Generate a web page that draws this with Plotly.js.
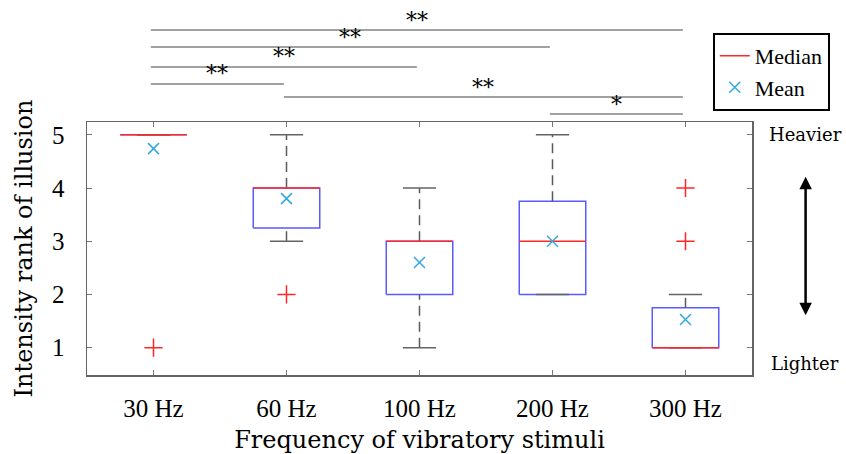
<!DOCTYPE html>
<html>
<head>
<meta charset="utf-8">
<script src="https://cdn.plot.ly/plotly-3.0.1.min.js"></script>
<style>html,body{margin:0;padding:0;background:#fff;}#chart{width:846px;height:454px;}</style>
</head>
<body>
<div id="chart"></div>
<script>
// ---- data ----
const categories = ["30 Hz", "60 Hz", "100 Hz", "200 Hz", "300 Hz"];
const q1Values     = [5, 3.25, 2, 2, 1];
const medianValues = [5, 4, 3, 3, 1];
const q3Values     = [5, 4, 3, 3.75, 1.75];
const lowerWhisker = [5, 3, 1, 2, 1];
const upperWhisker = [5, 5, 4, 5, 2];
const meanValues   = [4.74, 3.8, 2.6, 3.0, 1.53];
const outlierCat   = [0, 1, 4, 4];
const outlierVal   = [1, 2, 3, 4];
const sigPairs  = [[0, 4], [0, 3], [0, 2], [0, 1], [1, 4], [3, 4]];
const sigLabels = ["**", "**", "**", "**", "**", "*"];
const yTicks = [1, 2, 3, 4, 5];

// ---- styles ----
const serifTick = '"Liberation Serif", "Times New Roman", serif';
const serifTitle = '"DejaVu Serif", serif';
const boxHalf = 0.25, capHalf = 0.125;
const sigLevels = [1.3636, 1.2964, 1.2174, 1.1502, 1.0988, 1.0316]; // paper y of bars
const endShift = -0.02;

const idx = categories.map((c, i) => i);

function seg(fnX, fnY) {
  const xs = [], ys = [];
  idx.forEach(i => { const a = fnX(i), b = fnY(i); xs.push(...a, null); ys.push(...b, null); });
  return {x: xs, y: ys};
}

const boxPath = seg(i => [i - boxHalf, i + boxHalf, i + boxHalf, i - boxHalf, i - boxHalf],
                    i => [q1Values[i], q1Values[i], q3Values[i], q3Values[i], q1Values[i]]);
const upW = seg(i => [i, i], i => [q3Values[i], upperWhisker[i]]);
const loW = seg(i => [i, i], i => [lowerWhisker[i], q1Values[i]]);
const capsU = seg(i => [i - capHalf, i + capHalf], i => [upperWhisker[i], upperWhisker[i]]);
const capsL = seg(i => [i - capHalf, i + capHalf], i => [lowerWhisker[i], lowerWhisker[i]]);
const med = seg(i => [i - boxHalf, i + boxHalf], i => [medianValues[i], medianValues[i]]);

const traces = [
  {x: boxPath.x, y: boxPath.y, mode: "lines", line: {color: "rgb(90,90,255)", width: 1.5}, showlegend: false, hoverinfo: "skip"},
  {x: upW.x.concat(loW.x), y: upW.y.concat(loW.y), mode: "lines", line: {color: "rgb(90,90,90)", width: 1.5, dash: "10px,6px"}, showlegend: false, hoverinfo: "skip"},
  {x: capsU.x.concat(capsL.x), y: capsU.y.concat(capsL.y), mode: "lines", line: {color: "rgb(100,100,100)", width: 1.5}, showlegend: false, hoverinfo: "skip"},
  {x: med.x, y: med.y, mode: "lines", name: "Median", line: {color: "rgb(255,40,40)", width: 1.5}, showlegend: true},
  {x: outlierCat, y: outlierVal, mode: "markers", marker: {symbol: "cross-thin", size: 13, line: {color: "rgb(255,40,40)", width: 1.5}}, showlegend: false},
  {x: idx, y: meanValues, mode: "markers", name: "Mean", marker: {symbol: "x-thin", size: 11, color: "rgb(50,170,225)", line: {color: "rgb(50,170,225)", width: 1.5}}, showlegend: true}
];

const shapes = [], annotations = [];
sigPairs.forEach((p, k) => {
  shapes.push({type: "line", xref: "x", yref: "paper", x0: p[0] + endShift, x1: p[1] + endShift,
    y0: sigLevels[k], y1: sigLevels[k], line: {color: "rgb(130,130,130)", width: 1.5}});
  annotations.push({xref: "x", yref: "paper", x: (p[0] + p[1]) / 2 + endShift, y: sigLevels[k],
    xanchor: "center", yanchor: "middle", yshift: 10, text: sigLabels[k], showarrow: false,
    font: {family: serifTitle, size: 22, color: "#000"}});
});
annotations.push({xref: "paper", yref: "y", x: 1.0797, y: 5, xanchor: "center", yanchor: "middle",
  text: "Heavier", showarrow: false, font: {family: serifTitle, size: 18, color: "#000"}});
annotations.push({xref: "paper", yref: "y", x: 1.0797, y: 0.71, xanchor: "center", yanchor: "middle",
  text: "Lighter", showarrow: false, font: {family: serifTitle, size: 18, color: "#000"}});
annotations.push({xref: "paper", yref: "y", x: 1.0806, y: 4.21, axref: "pixel", ayref: "y", ax: 0, ay: 1.58,
  text: "", showarrow: true, arrowside: "end+start", arrowhead: 2, arrowsize: 1, arrowwidth: 2.5,
  arrowcolor: "#000", standoff: 0, startstandoff: 0});

const layout = {
  width: 846, height: 454,
  margin: {l: 87, r: 94, t: 122, b: 79},
  paper_bgcolor: "#fff", plot_bgcolor: "#fff",
  showlegend: true,
  legend: {x: 0.941, y: 1.352, xanchor: "left", yanchor: "top", bordercolor: "#000", borderwidth: 2,
    bgcolor: "#fff", font: {family: serifTick, size: 22, color: "#000"}, tracegroupgap: 0},
  xaxis: {range: [-0.5, 4.5], tickvals: idx, ticktext: categories, ticks: "inside", ticklen: 5,
    tickcolor: "rgb(120,120,120)", mirror: "ticks", showline: true, linecolor: "rgb(100,100,100)", linewidth: 1.5,
    showgrid: false, zeroline: false, ticklabelstandoff: 10,
    tickfont: {family: serifTick, size: 25, color: "#000"},
    title: {text: "Frequency of vibratory stimuli", font: {family: serifTitle, size: 24, color: "#000"}, standoff: 10}},
  yaxis: {range: [0.487, 5.24], tickvals: yTicks, ticks: "inside", ticklen: 5,
    tickcolor: "rgb(120,120,120)", mirror: "ticks", showline: true, linecolor: "rgb(100,100,100)", linewidth: 1.5,
    showgrid: false, zeroline: false, ticklabelstandoff: 16,
    tickfont: {family: serifTick, size: 25, color: "#000"},
    title: {text: "Intensity rank of illusion", font: {family: serifTitle, size: 24, color: "#000"}, standoff: 12}},
  shapes: shapes,
  annotations: annotations
};

Plotly.newPlot("chart", traces, layout, {displayModeBar: false, staticPlot: true});
</script>
</body>
</html>
